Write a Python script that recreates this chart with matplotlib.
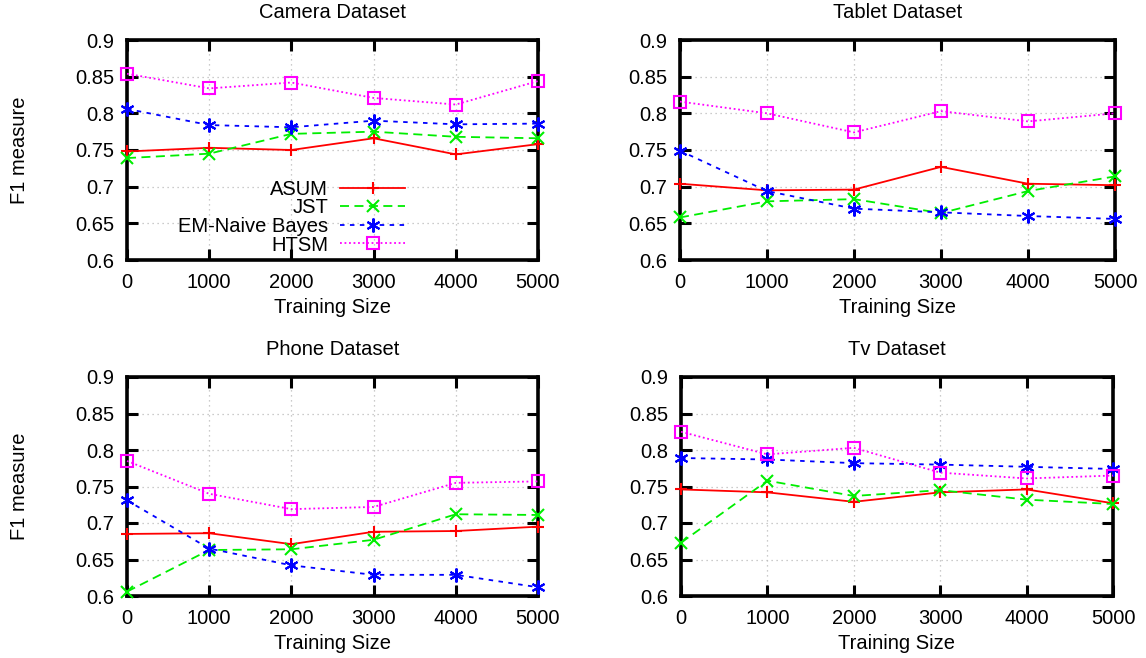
import matplotlib
matplotlib.use("Agg")
import matplotlib.pyplot as plt

plt.rcParams["font.family"] = ["Liberation Sans", "DejaVu Sans"]

training_size = [0, 1000, 2000, 3000, 4000, 5000]
methods = ["ASUM", "JST", "EM-Naive Bayes", "HTSM"]
datasets = ["Camera Dataset", "Tablet Dataset", "Phone Dataset", "Tv Dataset"]

camera_asum = [0.748, 0.753, 0.750, 0.766, 0.744, 0.758]
camera_jst = [0.739, 0.745, 0.772, 0.775, 0.768, 0.766]
camera_em = [0.806, 0.784, 0.781, 0.790, 0.785, 0.786]
camera_htsm = [0.854, 0.834, 0.842, 0.821, 0.812, 0.844]

tablet_asum = [0.704, 0.695, 0.696, 0.727, 0.704, 0.702]
tablet_jst = [0.658, 0.680, 0.683, 0.664, 0.694, 0.714]
tablet_em = [0.749, 0.694, 0.670, 0.665, 0.660, 0.656]
tablet_htsm = [0.816, 0.800, 0.774, 0.803, 0.789, 0.800]

phone_asum = [0.685, 0.686, 0.671, 0.688, 0.689, 0.695]
phone_jst = [0.606, 0.663, 0.664, 0.677, 0.712, 0.711]
phone_em = [0.731, 0.665, 0.642, 0.629, 0.629, 0.612]
phone_htsm = [0.785, 0.740, 0.719, 0.722, 0.755, 0.757]

tv_asum = [0.746, 0.742, 0.729, 0.742, 0.746, 0.727]
tv_jst = [0.673, 0.758, 0.737, 0.745, 0.732, 0.726]
tv_em = [0.789, 0.787, 0.782, 0.780, 0.777, 0.774]
tv_htsm = [0.825, 0.794, 0.803, 0.769, 0.761, 0.765]

series = [
    [camera_asum, camera_jst, camera_em, camera_htsm],
    [tablet_asum, tablet_jst, tablet_em, tablet_htsm],
    [phone_asum, phone_jst, phone_em, phone_htsm],
    [tv_asum, tv_jst, tv_em, tv_htsm],
]

styles = [
    dict(color="#ff0000", linestyle="-", marker="+", markersize=9, markerfacecolor="none"),
    dict(color="#00ee00", linestyle=(0, (5, 3)), marker="x", markersize=8),
    dict(color="#0000ff", linestyle=(0, (2.5, 3)), marker=(6, 2, 0), markersize=10),
    dict(color="#ff00ff", linestyle=(0, (1, 1.5)), marker="s", markersize=9, markerfacecolor="none"),
]

W, H = 1146, 658
# pixel boxes (left, top, right, bottom) of each panel
boxes = [(127, 40, 538, 260), (680, 40, 1115, 260), (127, 377, 538, 596), (681, 377, 1113, 596)]

fig = plt.figure(figsize=(W / 100, H / 100), dpi=100)
FS = 14.5

axes = []
for i, (l, t, r, b) in enumerate(boxes):
    ax = fig.add_axes([l / W, 1 - b / H, (r - l) / W, (b - t) / H])
    for vals, name, st in zip(series[i], methods, styles):
        ax.plot(training_size, vals, label=name, linewidth=1.3, markeredgewidth=1.5,
                clip_on=False, zorder=3, **st)
    ax.set_xlim(0, 5000)
    ax.set_ylim(0.6, 0.9)
    ax.set_xticks(training_size)
    ax.set_yticks([0.6, 0.65, 0.7, 0.75, 0.8, 0.85, 0.9])
    ax.set_yticklabels(["0.6", "0.65", "0.7", "0.75", "0.8", "0.85", "0.9"])
    ax.grid(True, color="#bbbbbb", linestyle=(0, (1, 3)), linewidth=0.9)
    ax.tick_params(direction="in", length=8, width=2.2, top=True, right=True,
                   labelsize=FS, pad=9)
    for s in ax.spines.values():
        s.set_linewidth(2.6)
    ax.set_title(datasets[i], fontsize=FS, pad=16)
    ax.set_xlabel("Training Size", fontsize=FS, labelpad=5)
    if i % 2 == 0:
        ax.set_ylabel("F1 measure", fontsize=FS)
        ax.yaxis.set_label_coords(-(l - 29) / (r - l), 0.5)
    axes.append(ax)

leg = axes[0].legend(loc="lower center", bbox_to_anchor=(0.40, -0.03), frameon=False,
                     markerfirst=False, fontsize=FS, labelspacing=-0.02, handlelength=3.2,
                     handletextpad=0.6, borderaxespad=0.2)
for txt in leg.get_texts():
    txt.set_horizontalalignment("right")
leg._legend_box.align = "right"

fig.savefig("out.png", dpi=100)
